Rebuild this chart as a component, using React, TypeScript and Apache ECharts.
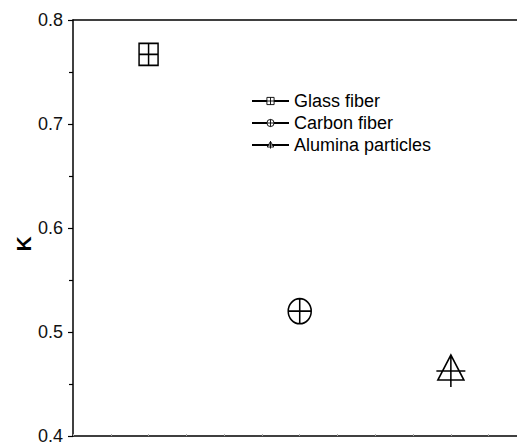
import React, { useEffect, useRef } from "react";
import * as echarts from "echarts";

const categories = ["Glass fiber", "Carbon fiber", "Alumina particles"];
const xPositions = [2, 6, 10];
const kValues = [0.767, 0.52, 0.4625];
const yTicks = { min: 0.4, max: 0.8, interval: 0.1 };

const symbols = [
  "path://M0,0 H10 V10 H0 Z M5,0 V10 M0,5 H10",
  "path://M0,5 A5,5 0 1,1 10,5 A5,5 0 1,1 0,5 Z M5,0 V10 M0,5 H10",
  "path://M14.5,0 L27.5,25 L1.5,25 Z M14.5,0 V32 M0,16 H29",
];
const symbolSizes = [
  [19, 22],
  [23, 25],
  [29, 32],
];

const FONT = "'Liberation Sans', Arial, Helvetica, sans-serif";

export default function App() {
  const ref = useRef<HTMLDivElement>(null);
  useEffect(() => {
    if (!ref.current) return;
    const chart = echarts.init(ref.current, null, { renderer: "svg" });
    const series = categories.map((name, i) => ({
      name,
      type: "line",
      data: [[xPositions[i], kValues[i]]],
      symbol: symbols[i],
      symbolSize: symbolSizes[i],
      symbolKeepAspect: false,
      lineStyle: { color: "#000", width: 1.2 },
      itemStyle: { color: "#fff", borderColor: "#000", borderWidth: 1.6 },
      emphasis: { disabled: true },
      silent: true,
    }));
    chart.setOption({
      animation: false,
      textStyle: { fontFamily: FONT },
      grid: { left: 73, top: 20, right: 0, bottom: 7 },
      legend: {
        orient: "vertical",
        left: 251,
        top: 92,
        padding: 0,
        itemWidth: 37,
        itemHeight: 9,
        itemGap: 4,
        itemStyle: { borderWidth: 0.9 },
        textStyle: { fontSize: 18, color: "#000", fontFamily: FONT },
        data: categories,
        selectedMode: false,
      },
      graphic: [
        {
          type: "text",
          x: 23,
          y: 244,
          rotation: Math.PI / 2,
          style: {
            text: "K",
            align: "center",
            verticalAlign: "middle",
            font: `bold 21px ${FONT}`,
            fill: "#000",
          },
        },
      ],
      xAxis: [
        {
          type: "value",
          min: 0,
          max: 11.75,
          interval: 1,
          position: "bottom",
          axisLine: { show: true, lineStyle: { color: "#000", width: 1.5 } },
          axisTick: { show: true, inside: true, length: 2, lineStyle: { color: "#aaa" } },
          axisLabel: { show: false },
          splitLine: { show: false },
        },
        {
          type: "value",
          min: 0,
          max: 11.75,
          interval: 1,
          position: "top",
          axisLine: { show: true, lineStyle: { color: "#000", width: 1.5 } },
          axisTick: { show: false },
          axisLabel: { show: false },
          splitLine: { show: false },
        },
      ],
      yAxis: {
        type: "value",
        min: yTicks.min,
        max: yTicks.max,
        interval: yTicks.interval,
        axisLine: { show: true, lineStyle: { color: "#000", width: 1.5 } },
        axisTick: { show: true, inside: false, length: 5, lineStyle: { color: "#000", width: 1.2 } },
        minorTick: { show: true, splitNumber: 2, length: 4, lineStyle: { color: "#000", width: 1.2 } },
        axisLabel: {
          fontSize: 18,
          color: "#111",
          margin: 10,
          fontFamily: FONT,
          formatter: (v: number) => v.toFixed(1),
        },
        splitLine: { show: false },
      },
      series,
    });
    return () => chart.dispose();
  }, []);
  return (
    <div
      ref={ref}
      style={{ position: "fixed", left: 0, top: 0, width: 517, height: 445, background: "#fff" }}
    />
  );
}
